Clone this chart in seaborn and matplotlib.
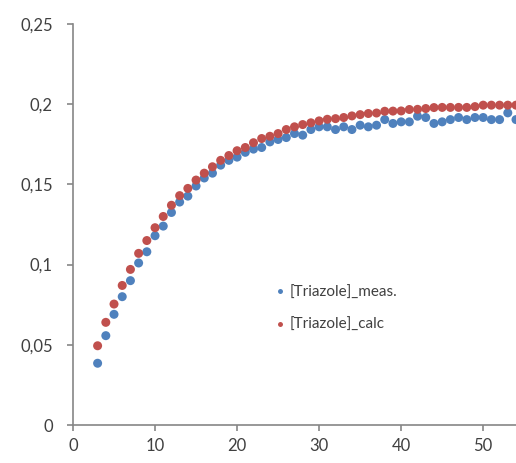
import numpy as np
import pandas as pd
import matplotlib.pyplot as plt
import seaborn as sns
from matplotlib.ticker import FuncFormatter

# values
time = list(range(3, 56))
triazole_meas = [0.0385, 0.0557, 0.069, 0.080, 0.090, 0.101, 0.108, 0.118, 0.124, 0.1325,
                 0.139, 0.1427, 0.149, 0.154, 0.157, 0.162, 0.165, 0.167, 0.170, 0.172,
                 0.173, 0.1765, 0.178, 0.1792, 0.1817, 0.1807, 0.1842, 0.1859, 0.1859, 0.1842,
                 0.1859, 0.1842, 0.1869, 0.1859, 0.1869, 0.1904, 0.188, 0.189, 0.189, 0.1925,
                 0.1917, 0.188, 0.189, 0.1904, 0.1917, 0.1904, 0.1917, 0.1917, 0.1904, 0.1904,
                 0.1946, 0.1904, 0.1910]
triazole_calc = [0.0494, 0.064, 0.0754, 0.087, 0.097, 0.107, 0.115, 0.123, 0.130, 0.137,
                 0.143, 0.1475, 0.1527, 0.157, 0.161, 0.165, 0.168, 0.171, 0.173, 0.176,
                 0.1786, 0.180, 0.1817, 0.1842, 0.1859, 0.1873, 0.1884, 0.1896, 0.1906, 0.1910,
                 0.1917, 0.1927, 0.1935, 0.1942, 0.1945, 0.1956, 0.1957, 0.1958, 0.1967, 0.1968,
                 0.1973, 0.1979, 0.198, 0.198, 0.198, 0.198, 0.1985, 0.1994, 0.1994, 0.1994,
                 0.1994, 0.1994, 0.1994]
series_names = ['[Triazole]_meas.', '[Triazole]_calc']
y_ticks = [0, 0.05, 0.1, 0.15, 0.2, 0.25]
x_ticks = [0, 10, 20, 30, 40, 50]

df = pd.DataFrame({
    't': time * 2,
    'conc': triazole_meas + triazole_calc,
    'series': [series_names[0]] * len(time) + [series_names[1]] * len(time),
})

sns.set_style('white')
plt.rcParams['font.family'] = ['Lato', 'DejaVu Sans']

fig = plt.figure(figsize=(5.16, 4.63), dpi=100)
ax = fig.add_axes([73 / 516, 38 / 463, 1 - 73 / 516, 401 / 463])

sns.scatterplot(data=df, x='t', y='conc', hue='series',
                palette=['#4F81BD', '#C0504D'], s=42, linewidth=0, ax=ax)

ax.set_xlim(0, 54)
ax.set_ylim(0, 0.25)
ax.set_xticks(x_ticks)
ax.set_yticks(y_ticks)
ax.yaxis.set_major_formatter(FuncFormatter(lambda v, p: f'{v:g}'.replace('.', ',')))
ax.set_xlabel('')
ax.set_ylabel('')

for side in ['top', 'right']:
    ax.spines[side].set_visible(False)
for side in ['left', 'bottom']:
    ax.spines[side].set_color('#868686')
    ax.spines[side].set_linewidth(1.2)
ax.tick_params(axis='both', which='major', bottom=True, left=True, direction='out',
               length=4.5, width=1.2, color='#868686',
               labelsize=12, labelcolor='#404040')
ax.tick_params(axis='x', pad=5)
ax.tick_params(axis='y', pad=10)

leg = ax.legend(loc='upper left', bbox_to_anchor=(265 / 516, 1 - 278 / 463),
                bbox_transform=fig.transFigure, frameon=False, fontsize=11,
                markerscale=0.55, handletextpad=0.1, handlelength=1.0,
                labelspacing=1.2, borderpad=0)
for txt in leg.get_texts():
    txt.set_color('#404040')

fig.savefig('out.png', dpi=100)
